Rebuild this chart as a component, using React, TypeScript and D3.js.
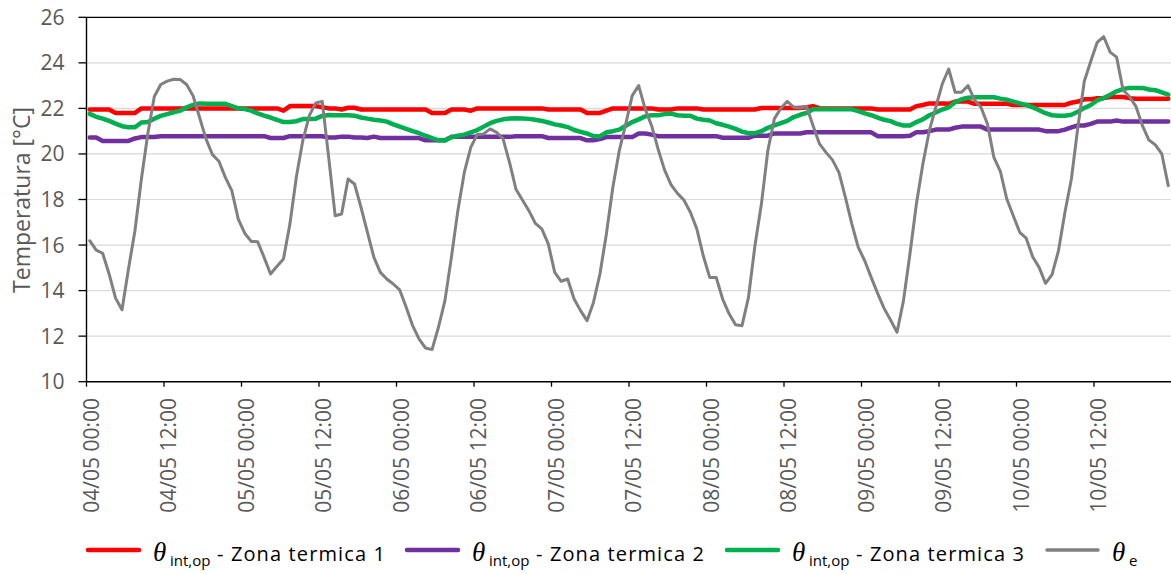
import React from 'react';
import * as d3 from 'd3';

// ---- data (hourly values, 04/05 00:00 → 10/05 23:00) ----
const tickLabels = [
  '04/05 00:00', '04/05 12:00', '05/05 00:00', '05/05 12:00', '06/05 00:00', '06/05 12:00',
  '07/05 00:00', '07/05 12:00', '08/05 00:00', '08/05 12:00', '09/05 00:00', '09/05 12:00',
  '10/05 00:00', '10/05 12:00',
];
const yTicks = [10, 12, 14, 16, 18, 20, 22, 24, 26];

const zona1 = [
  21.95, 21.95, 21.95, 21.95, 21.8, 21.8, 21.8, 21.8, 22.0, 22.0, 22.0, 22.0,
  22.0, 22.0, 22.0, 22.0, 22.0, 22.0, 22.0, 22.0, 22.0, 22.0, 22.0, 22.0,
  22.0, 22.0, 22.0, 22.0, 22.0, 22.0, 21.9, 22.1, 22.1, 22.1, 22.1, 22.1,
  22.05, 22.0, 22.0, 21.95, 22.03, 22.03, 21.95, 21.95, 21.95, 21.95, 21.95, 21.95,
  21.95, 21.95, 21.95, 21.95, 21.95, 21.8, 21.8, 21.8, 21.95, 21.95, 21.95, 21.9,
  22.0, 22.0, 22.0, 22.0, 22.0, 22.0, 22.0, 22.0, 22.0, 22.0, 22.0, 21.95,
  21.95, 21.95, 21.95, 21.95, 21.95, 21.8, 21.8, 21.8, 21.9, 22.0, 22.0, 22.0,
  22.0, 22.0, 22.0, 22.0, 21.95, 21.95, 21.95, 22.0, 22.0, 22.0, 22.0, 21.95,
  21.95, 21.95, 21.95, 21.95, 21.95, 21.95, 21.95, 21.95, 22.02, 22.02, 22.02, 22.02,
  22.02, 22.02, 22.02, 22.05, 22.1, 22.0, 22.0, 22.0, 22.0, 22.0, 22.0, 22.0,
  22.0, 22.0, 21.95, 21.95, 21.95, 21.95, 21.95, 21.95, 22.1, 22.15, 22.22, 22.22,
  22.22, 22.2, 22.3, 22.3, 22.3, 22.2, 22.2, 22.2, 22.2, 22.2, 22.2, 22.15,
  22.15, 22.15, 22.15, 22.15, 22.15, 22.15, 22.15, 22.15, 22.25, 22.3, 22.4, 22.4,
  22.45, 22.45, 22.5, 22.5, 22.5, 22.45, 22.42, 22.42, 22.42, 22.42, 22.42, 22.42,
];

const zona2 = [
  20.72, 20.72, 20.57, 20.57, 20.57, 20.57, 20.57, 20.68, 20.74, 20.74, 20.74, 20.78,
  20.78, 20.78, 20.78, 20.78, 20.78, 20.78, 20.78, 20.78, 20.78, 20.78, 20.78, 20.78,
  20.78, 20.78, 20.78, 20.78, 20.7, 20.7, 20.7, 20.78, 20.78, 20.78, 20.78, 20.78,
  20.78, 20.72, 20.72, 20.76, 20.76, 20.72, 20.72, 20.7, 20.76, 20.7, 20.7, 20.7,
  20.7, 20.7, 20.7, 20.7, 20.6, 20.6, 20.6, 20.6, 20.75, 20.75, 20.75, 20.75,
  20.75, 20.75, 20.75, 20.75, 20.75, 20.75, 20.78, 20.78, 20.78, 20.78, 20.78, 20.7,
  20.7, 20.7, 20.7, 20.7, 20.7, 20.6, 20.6, 20.65, 20.74, 20.74, 20.74, 20.74,
  20.74, 20.9, 20.9, 20.85, 20.78, 20.78, 20.78, 20.78, 20.78, 20.78, 20.78, 20.78,
  20.78, 20.78, 20.71, 20.71, 20.71, 20.71, 20.71, 20.8, 20.8, 20.8, 20.9, 20.9,
  20.9, 20.9, 20.9, 20.95, 20.95, 20.95, 20.95, 20.95, 20.95, 20.95, 20.95, 20.95,
  20.95, 20.95, 20.78, 20.78, 20.78, 20.78, 20.78, 20.8, 20.95, 20.95, 21.0, 21.07,
  21.07, 21.07, 21.15, 21.2, 21.2, 21.2, 21.2, 21.07, 21.07, 21.07, 21.07, 21.07,
  21.07, 21.07, 21.07, 21.07, 21.0, 21.0, 21.0, 21.07, 21.17, 21.25, 21.25, 21.32,
  21.42, 21.42, 21.42, 21.47, 21.42, 21.42, 21.42, 21.42, 21.42, 21.42, 21.42, 21.42,
];

const zona3 = [
  21.76, 21.63, 21.55, 21.45, 21.33, 21.22, 21.17, 21.17, 21.38, 21.4, 21.55, 21.67,
  21.75, 21.83, 21.9, 22.05, 22.15, 22.22, 22.2, 22.2, 22.2, 22.2, 22.1, 22.0,
  21.97, 21.9, 21.78, 21.68, 21.6, 21.5, 21.4, 21.4, 21.44, 21.53, 21.54, 21.55,
  21.67, 21.71, 21.7, 21.7, 21.7, 21.68, 21.6, 21.55, 21.5, 21.47, 21.42, 21.3,
  21.2, 21.1, 21.0, 20.91, 20.8, 20.7, 20.6, 20.59, 20.73, 20.8, 20.85, 20.95,
  21.05, 21.2, 21.35, 21.45, 21.52, 21.56, 21.57, 21.56, 21.54, 21.5, 21.45, 21.38,
  21.3, 21.25, 21.18, 21.05, 20.97, 20.9, 20.78, 20.78, 20.95, 21.0, 21.07, 21.24,
  21.4, 21.52, 21.65, 21.7, 21.7, 21.75, 21.77, 21.7, 21.68, 21.68, 21.55, 21.5,
  21.47, 21.35, 21.28, 21.2, 21.1, 20.98, 20.91, 20.91, 21.0, 21.15, 21.25, 21.35,
  21.45, 21.62, 21.72, 21.8, 21.96, 21.96, 21.96, 21.96, 21.96, 21.96, 21.96, 21.88,
  21.78, 21.7, 21.6, 21.5, 21.44, 21.32, 21.25, 21.25, 21.4, 21.52, 21.7, 21.82,
  21.95, 22.05, 22.27, 22.4, 22.47, 22.49, 22.49, 22.49, 22.49, 22.43, 22.38, 22.3,
  22.22, 22.15, 22.05, 21.92, 21.79, 21.7, 21.68, 21.68, 21.72, 21.85, 22.02, 22.15,
  22.35, 22.46, 22.6, 22.75, 22.85, 22.9, 22.9, 22.9, 22.83, 22.8, 22.7, 22.6,
];

const esterna = [
  16.19, 15.78, 15.64, 14.73, 13.67, 13.16, 14.95, 16.63, 18.9, 20.9, 22.52, 23.05,
  23.2, 23.28, 23.27, 23.05, 22.55, 21.61, 20.66, 19.97, 19.68, 18.97, 18.39, 17.14,
  16.52, 16.16, 16.15, 15.46, 14.73, 15.07, 15.39, 16.93, 19.0, 20.6, 21.68, 22.24,
  22.31, 19.85, 17.29, 17.36, 18.9, 18.68, 17.66, 16.56, 15.46, 14.8, 14.51, 14.29,
  14.03, 13.27, 12.46, 11.87, 11.48, 11.41, 12.39, 13.56, 15.46, 17.51, 19.19, 20.29,
  20.85, 20.88, 21.1, 20.95, 20.66, 19.63, 18.45, 17.98, 17.51, 16.95, 16.71, 16.05,
  14.8, 14.41, 14.51, 13.63, 13.12, 12.68, 13.48, 14.73, 16.49, 18.54, 20.15, 21.32,
  22.56, 23.0, 21.98, 21.24, 20.22, 19.3, 18.65, 18.27, 17.98, 17.44, 16.71, 15.53,
  14.58, 14.58, 13.63, 12.98, 12.5, 12.46, 13.7, 15.97, 17.8, 20.15, 21.54, 22.0,
  22.31, 22.05, 22.02, 22.08, 21.24, 20.44, 20.07, 19.74, 19.19, 18.1, 16.93, 15.9,
  15.31, 14.58, 13.88, 13.22, 12.71, 12.17, 13.56, 15.61, 17.8, 19.56, 21.02, 22.05,
  23.07, 23.73, 22.71, 22.71, 23.0, 22.37, 22.05, 21.32, 19.85, 19.24, 18.02, 17.29,
  16.56, 16.3, 15.49, 15.02, 14.32, 14.7, 15.75, 17.44, 18.9, 21.17, 23.19, 24.07,
  24.9, 25.15, 24.47, 24.25, 22.81, 22.52, 22.08, 21.24, 20.61, 20.4, 20.0, 18.61,
];

const seriesNames = ['Zona termica 1', 'Zona termica 2', 'Zona termica 3', ''];

// ---- layout ----
const W = 1171;
const H = 574;
const PLOT = { left: 86.5, right: 1171.5, top: 17.3, bottom: 381.7 };
const FONT = "'Open Sans', 'Noto Sans', sans-serif";

export default function App() {
  const x = d3.scaleLinear().domain([0, 168]).range([PLOT.left, PLOT.right]);
  const y = d3.scaleLinear().domain([10, 26]).range([PLOT.bottom, PLOT.top]);
  const line = d3
    .line<number>()
    .x((_, i) => x(i + 0.5))
    .y((d) => y(d));

  const series = [
    { data: zona1, color: '#FF0000', width: 4.5, sub: 'int,op', name: seriesNames[0] },
    { data: zona2, color: '#7030A0', width: 4.5, sub: 'int,op', name: seriesNames[1] },
    { data: zona3, color: '#00B050', width: 4.5, sub: 'int,op', name: seriesNames[2] },
    { data: esterna, color: '#808080', width: 3, sub: 'e', name: seriesNames[3] },
  ];

  const xTicks = tickLabels.map((lab, i) => ({ lab, v: i * 12 }));
  const legendX = [87, 406, 726, 1046];

  return (
    <svg
      width={W}
      height={H}
      viewBox={`0 0 ${W} ${H}`}
      style={{ position: 'absolute', left: 0, top: 0, background: '#fff' }}
    >
      <rect x={0} y={0} width={W} height={H} fill="#fff" />
      {/* gridlines */}
      {yTicks
        .filter((t) => t > 10 && t < 26)
        .map((t) => (
          <line key={t} x1={PLOT.left} x2={PLOT.right} y1={y(t)} y2={y(t)} stroke="#d9d9d9" strokeWidth={1.2} />
        ))}
      {/* top border */}
      <line x1={PLOT.left} x2={PLOT.right} y1={y(26)} y2={y(26)} stroke="#000" strokeWidth={1.3} />
      {/* y axis */}
      <line x1={PLOT.left} x2={PLOT.left} y1={PLOT.top} y2={PLOT.bottom} stroke="#000" strokeWidth={1.4} />
      {yTicks.map((t) => (
        <g key={t}>
          <line x1={PLOT.left - 8} x2={PLOT.left} y1={y(t)} y2={y(t)} stroke="#000" strokeWidth={1.3} />
          <text
            x={64.5}
            y={y(t)}
            dy="0.357em"
            textAnchor="end"
            fontFamily={FONT}
            fontSize={21}
            fill="#595959"
          >
            {t}
          </text>
        </g>
      ))}
      {/* x axis */}
      <line x1={PLOT.left} x2={PLOT.right} y1={PLOT.bottom} y2={PLOT.bottom} stroke="#000" strokeWidth={1.4} />
      {xTicks.map((t) => (
        <g key={t.lab}>
          <line x1={x(t.v)} x2={x(t.v)} y1={PLOT.bottom} y2={PLOT.bottom + 5} stroke="#000" strokeWidth={1.3} />
          <text
            transform={`translate(${x(t.v) + 4.5},398) rotate(-90)`}
            dy="0.357em"
            textAnchor="end"
            fontFamily={FONT}
            fontSize={21}
            fill="#595959"
          >
            {t.lab}
          </text>
        </g>
      ))}
      {/* y title */}
      <text
        transform="translate(29.5,200) rotate(-90)"
        textAnchor="middle"
        fontFamily={FONT}
        fontSize={23}
        fill="#595959"
      >
        Temperatura [°C]
      </text>
      {/* series */}
      {series.map((s, i) => (
        <path
          key={i}
          d={line(s.data) || ''}
          fill="none"
          stroke={s.color}
          strokeWidth={s.width}
          strokeLinejoin="round"
          strokeLinecap="round"
        />
      ))}
      {/* legend */}
      {series.map((s, i) => {
        const x0 = legendX[i];
        const th = x0 + 66;
        return (
          <g key={'lg' + i}>
            <line
              x1={x0 + 1}
              x2={x0 + 52}
              y1={550}
              y2={550}
              stroke={s.color}
              strokeWidth={s.width === 3 ? 3.5 : 4.5}
              strokeLinecap="round"
            />
            <text x={th} y={561} fontFamily="'Liberation Serif', 'DejaVu Serif', serif" fontStyle="italic" fontSize={27} fill="#000">
              θ
            </text>
            <text x={th + 17} y={566} fontFamily={FONT} fontSize={15} fill="#000">
              {s.sub}
            </text>
            {s.name && (
              <text
                x={th + 64}
                y={561}
                fontFamily={FONT}
                fontSize={20}
                fill="#000"
                textLength={168}
                lengthAdjust="spacing"
              >
                {'- ' + s.name}
              </text>
            )}
          </g>
        );
      })}
    </svg>
  );
}
